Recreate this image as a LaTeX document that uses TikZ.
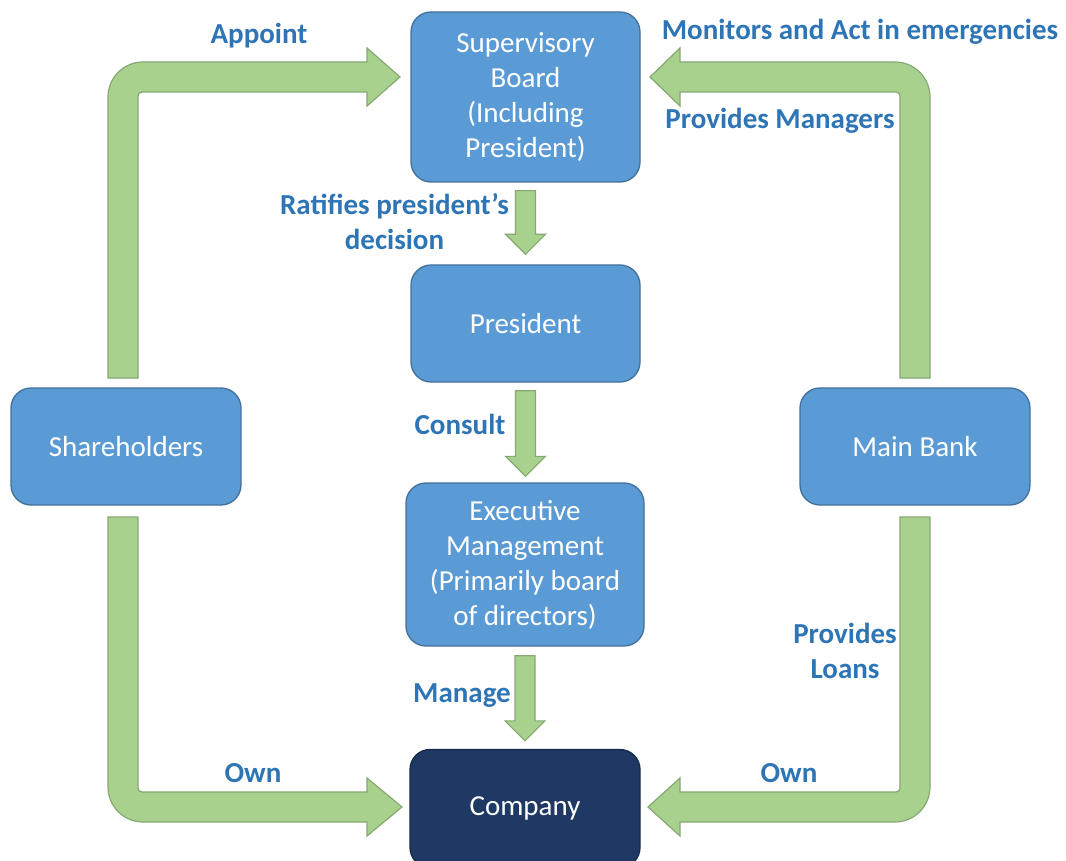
\documentclass[tikz,border=0pt]{standalone}
\usepackage{fontspec}
\setmainfont{Carlito}
\usetikzlibrary{calc}

\definecolor{boxblue}{HTML}{5B9BD5}
\definecolor{boxedge}{HTML}{41719C}
\definecolor{navy}{HTML}{1F3864}
\definecolor{navyedge}{HTML}{172B4D}
\definecolor{arrowgreen}{HTML}{A9D18E}
\definecolor{arrowedge}{HTML}{86A872}
\definecolor{labelblue}{HTML}{2E75B6}

\tikzset{
  box/.style={draw=boxedge, line width=1.3pt, fill=boxblue, rounded corners=20pt,
    text=white, align=center, inner sep=0pt,
    font=\fontsize{29}{35}\selectfont},
  darkbox/.style={box, draw=navyedge, fill=navy},
  lbl/.style={text=labelblue, align=center, inner sep=0pt,
    font=\fontsize{29}{35}\selectfont\bfseries},
  greenarrow/.style={draw=arrowedge, line width=1.2pt, fill=arrowgreen, line join=miter},
}

% vertical block arrow from the bottom of one node to the top of the next
\newcommand\downblock[2]{%
  \path[greenarrow] let \p1=#1, \p2=#2 in
    (\x1-10pt,\y1) -- (\x1+10pt,\y1) -- (\x1+10pt,\y2+20pt) -- (\x1+20pt,\y2+20pt)
    -- (\x1,\y2) -- (\x1-20pt,\y2+20pt) -- (\x1-10pt,\y2+20pt) -- cycle;}

\begin{document}
\begin{tikzpicture}[x=1pt,y=-1pt]
\useasboundingbox (0,0) rectangle (1066,861);
\clip (0,0) rectangle (1066,861);
\fill[white] (0,0) rectangle (1066,861);

% boxes
\node[box, minimum width=229pt, minimum height=170pt] (sup) at (525.5,97)
  {Supervisory\\Board\\(Including\\President)};
\node[box, minimum width=229pt, minimum height=117pt] (pres) at (525.5,323.5) {President};
\node[box, minimum width=238pt, minimum height=163pt] (exec) at (525,564.5)
  {Executive\\Management\\(Primarily board\\of directors)};
\node[darkbox, minimum width=230pt, minimum height=118pt] (comp) at (525,808.5) {Company};
\node[box, minimum width=230pt, minimum height=117pt] (share) at (126,446.5) {Shareholders};
\node[box, minimum width=230pt, minimum height=117pt] (bank) at (915,446.5) {Main Bank};

% straight block arrows down the middle
\downblock{($(sup.south)+(0,8)$)}{($(pres.north)+(0,-10)$)}
\downblock{($(pres.south)+(0,8)$)}{($(exec.north)+(0,-6)$)}
\downblock{($(exec.south)+(0,9)$)}{($(comp.north)+(0,-8)$)}

% bent block arrows: Shareholders -> Supervisory Board
\path[greenarrow] (108,378) -- (108,97) .. controls (108,77.7) and (123.7,62) .. (143,62)
  -- (367,62) -- (367,48) -- (400,77) -- (367,106) -- (367,92) -- (142,92)
  .. controls (139.8,92) and (138,93.8) .. (138,96) -- (138,378) -- cycle;
% Shareholders -> Company
\path[greenarrow] (108,517) -- (108,787) .. controls (108,806.3) and (123.7,822) .. (143,822)
  -- (367,822) -- (367,836) -- (402,807) -- (367,778) -- (367,792) -- (142,792)
  .. controls (139.8,792) and (138,790.2) .. (138,788) -- (138,517) -- cycle;
% Main Bank -> Supervisory Board
\path[greenarrow] (930,378) -- (930,97) .. controls (930,77.7) and (914.3,62) .. (895,62)
  -- (680,62) -- (680,48) -- (650,77) -- (680,106) -- (680,92) -- (896,92)
  .. controls (898.2,92) and (900,93.8) .. (900,96) -- (900,378) -- cycle;
% Main Bank -> Company
\path[greenarrow] (930,517) -- (930,787) .. controls (930,806.3) and (914.3,822) .. (895,822)
  -- (680,822) -- (680,836) -- (648,807) -- (680,778) -- (680,792) -- (896,792)
  .. controls (898.2,792) and (900,790.2) .. (900,788) -- (900,517) -- cycle;

% labels
\node[lbl] (lappoint) at (259,36) {Appoint};
\node[lbl] (lmonitor) at (860,32) {Monitors and Act in emergencies};
\node[lbl] (lprovm) at (780,121) {Provides Managers};
\node[lbl] (lratify) at (394.5,222) {Ratifies president’s\\decision};
\node[lbl] (lconsult) at (460,424) {Consult};
\node[lbl] (lmanage) at (462,696) {Manage};
\node[lbl] (lloans) at (845,651) {Provides\\Loans};
\node[lbl] (lownl) at (253,773) {Own};
\node[lbl] (lownr) at (789,773) {Own};
\end{tikzpicture}
\end{document}
